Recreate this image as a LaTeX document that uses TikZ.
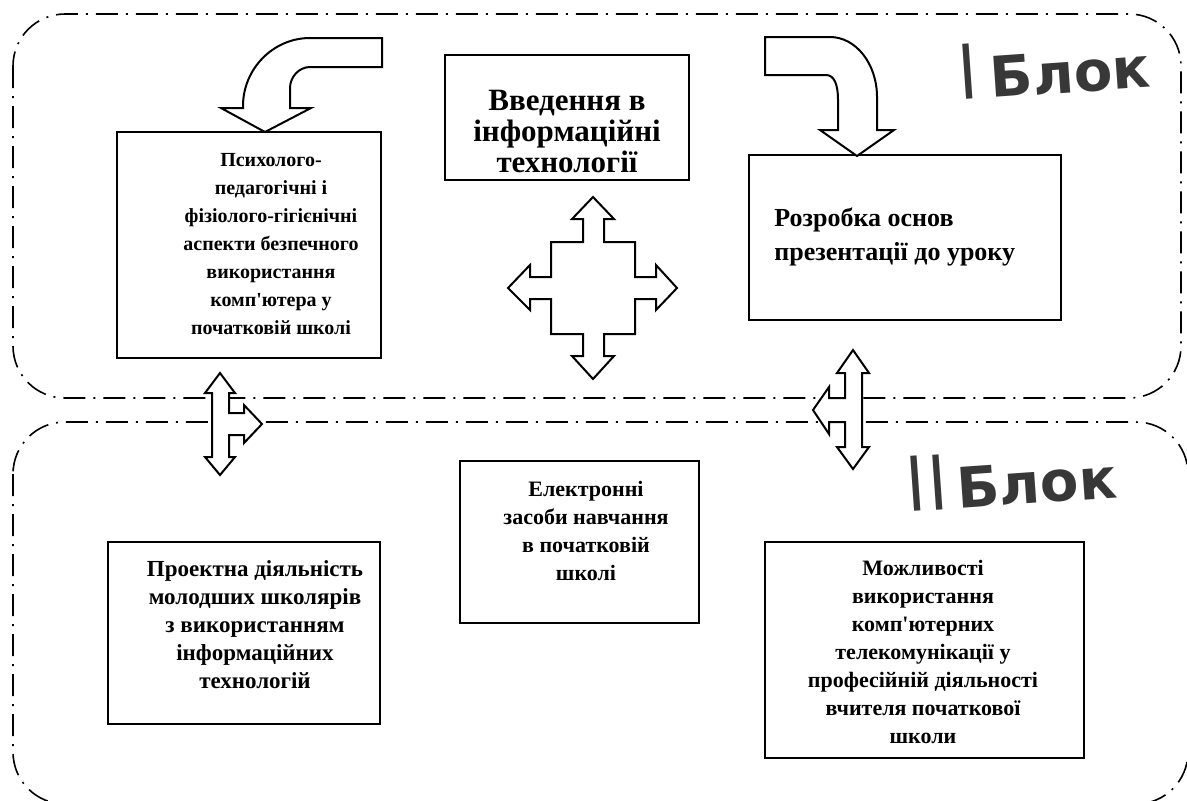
\documentclass[tikz,border=0pt]{standalone}
\usepackage{fontspec}
\usepackage{graphicx}
\usetikzlibrary{fit}
\newfontfamily\boxfont{Liberation Serif}
\newfontfamily\blokfont{DejaVu Sans}

\begin{document}
\begin{tikzpicture}[
  % one unit = one pixel of the original page, y runs down
  x={(0.5pt,0pt)},
  y={(0pt,-0.5pt)},
  block/.style={line width=0.8pt, dash pattern=on 11pt off 4pt on 1pt off 4pt,
    rounded corners=26pt},
  box/.style={draw, line width=1.2pt, inner sep=0pt},
  txt/.style={align=center, inner sep=0pt,
    font=\boxfont\bfseries\fontsize{10}{14}\selectfont},
  midtxt/.style={align=center, inner sep=0pt,
    font=\boxfont\bfseries\fontsize{11}{14}\selectfont},
  bigtxt/.style={align=center, inner sep=0pt,
    font=\boxfont\bfseries\fontsize{15.5}{15.5}\selectfont},
  hollow/.style={draw, fill=white, line width=1pt, line join=miter},
  blok/.style={font=\blokfont\bfseries\fontsize{28}{28}\selectfont, text=black!78,
    inner sep=0pt, anchor=base west, rotate=4},
]
\useasboundingbox (0,0) rectangle (1187,800);
\clip (0,0) rectangle (1187,800);

% --- the two blocks ---
\draw[block] (13,14) rectangle (1181,398);
\draw[block] (13,422) rectangle (1188,804);

\node[blok] (blok1) at (963,100) {\scalebox{0.6}[1.35]{I}\hspace{8pt}Блок};
\node[blok] (blok2) at (911,512) {\scalebox{0.6}[1.35]{I}\hspace{5pt}\scalebox{0.6}[1.35]{I}\hspace{6pt}Блок};

% --- boxes of block I ---
\node[box, fit={(117,132) (381,358)}] (psy) {};
\node[txt] (psyT) at (271,244) {Психолого-\\педагогічні і\\фізіолого-гігієнічні\\аспекти безпечного\\використання\\комп'ютера у\\початковій школі};

\node[box, fit={(445,55) (689,180)}] (vved) {};
\node[bigtxt] (vvedT) at (567,131) {Введення в\\інформаційні\\технології};

\node[box, fit={(749,155) (1061,320)}] (rozr) {};
\node[midtxt, align=left, anchor=west, font=\boxfont\bfseries\fontsize{13}{17}\selectfont]
  (rozrT) at (774,237) {Розробка основ\\презентації до уроку};

% --- boxes of block II ---
\node[box, fit={(460,461) (699,623)}] (elek) {};
\node[midtxt] (elekT) at (586,531) {Електронні\\засоби навчання\\в початковій\\школі};

\node[box, fit={(108,542) (380,724)}] (proj) {};
\node[midtxt, font=\boxfont\bfseries\fontsize{11.5}{14}\selectfont]
  (projT) at (255,625) {Проектна діяльність\\молодших школярів\\з використанням\\інформаційних\\технологій};

\node[box, fit={(765,542) (1084,758)}] (mozh) {};
\node[midtxt] (mozhT) at (923,652) {Можливості\\використання\\комп'ютерних\\телекомунікації у\\професійній діяльності\\вчителя початкової\\школи};

% --- bent arrows into the boxes ---
\draw[hollow] (382,38) -- (310,38) .. controls (273,38) and (243,69) .. (243,106)
  -- (243,108) -- (221,108) -- (265,132) -- (311,108) -- (290,108) -- (290,88)
  .. controls (290,77) and (299,67) .. (310,67) -- (382,67) -- cycle;
\draw[hollow] (765,37) -- (830,37) .. controls (856,37) and (877,64) .. (877,97)
  -- (877,130) -- (894,130) -- (857,156) -- (820,130) -- (838,130) -- (838,100)
  .. controls (838,84) and (834,75) .. (826,75) -- (765,75) -- cycle;

% --- four-way arrow ---
\draw[hollow] (593,197) -- (614,219) -- (604,219) -- (604,242) -- (635,242)
  -- (635,277) -- (656,277) -- (656,265) -- (677,288) -- (656,310) -- (656,299)
  -- (635,299) -- (635,334) -- (604,334) -- (604,356) -- (614,356) -- (593,379)
  -- (572,356) -- (583,356) -- (583,334) -- (551,334) -- (551,299) -- (530,299)
  -- (530,310) -- (508,288) -- (530,265) -- (530,277) -- (551,277) -- (551,242)
  -- (583,242) -- (583,219) -- (572,219) -- cycle;

% --- arrows between the blocks ---
\draw[hollow] (220,373) -- (235,393) -- (229,393) -- (229,413) -- (244,413)
  -- (244,405) -- (262,424) -- (244,443) -- (244,435) -- (229,435) -- (229,457)
  -- (235,457) -- (220,475) -- (205,457) -- (212,457) -- (212,393) -- (205,393)
  -- cycle;
\draw[hollow] (853,350) -- (869,373) -- (862,373) -- (862,447) -- (869,447)
  -- (853,469) -- (837,447) -- (845,447) -- (845,422) -- (829,422) -- (829,434)
  -- (813,410) -- (829,387) -- (829,398) -- (845,398) -- (845,373) -- (837,373)
  -- cycle;
\end{tikzpicture}
\end{document}
